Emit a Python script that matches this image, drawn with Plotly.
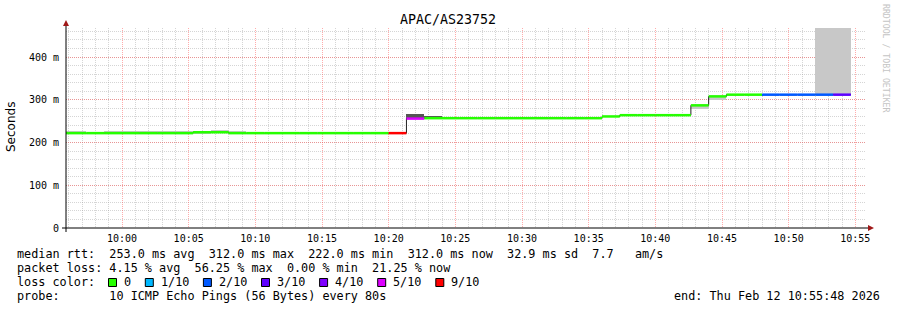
import pandas as pd
import plotly.graph_objects as go

# ---------------- data ----------------
DAY = "2026-02-12"
sample_start = [
    "09:54:40", "09:56:00", "09:57:20", "09:58:40", "10:00:00", "10:01:20",
    "10:02:40", "10:04:00", "10:05:20", "10:06:40", "10:08:00", "10:09:20",
    "10:10:40", "10:12:00", "10:13:20", "10:14:40", "10:16:00", "10:17:20",
    "10:18:40", "10:20:00", "10:21:20", "10:22:40", "10:24:00", "10:25:20",
    "10:26:40", "10:28:00", "10:29:20", "10:30:40", "10:32:00", "10:33:20",
    "10:34:40", "10:36:00", "10:37:20", "10:38:40", "10:40:00", "10:41:20",
    "10:42:40", "10:44:00", "10:45:20", "10:46:40", "10:48:00", "10:49:20",
    "10:50:40", "10:52:00", "10:53:20",
]
# median rtt in ms
median_ms = [
    222, 222, 222, 222, 222, 222, 222, 222, 224, 224, 222, 222,
    222, 222, 222, 222, 222, 222, 222, 222, 256, 257, 257, 257,
    257, 257, 257, 257, 257, 257, 257, 261, 264, 264, 264, 264,
    287, 308, 312, 312, 312, 312, 312, 312, 312,
]
# lost pings out of 10
loss_tenths = [
    0, 0, 0, 0, 0, 0, 0, 0, 0, 0, 0, 0,
    0, 0, 0, 0, 0, 0, 0, 9, 5, 0, 0, 0,
    0, 0, 0, 0, 0, 0, 0, 0, 0, 0, 0, 0,
    0, 0, 0, 0, 2, 2, 2, 2, 3,
]
N = None
# outer (light) smoke band, ms
smoke_lo = [222, 222, N, 222, 222, 222, 222, 222, 221, 222, 222, N,
            N, N, N, N, N, N, N, N, N, N, N, N,
            N, N, N, N, N, N, N, N, N, N, N, N,
            279, 300, N, N, N, N, N, 312, 312]
smoke_hi = [227, 227, N, 226, 226, 226, 226, 226, 228, 230, 226, N,
            N, N, N, N, N, N, N, N, N, N, N, N,
            N, N, N, N, N, N, N, N, N, N, N, N,
            287, 308, N, N, N, N, N, 900, 900]
# inner (dense) smoke band, ms
core_lo = [N] * 20 + [256, 257] + [N] * 23
core_hi = [N] * 20 + [266, 262] + [N] * 23

loss_labels = ["0", "1/10", "2/10", "3/10", "4/10", "5/10", "9/10"]
loss_levels = [0, 1, 2, 3, 4, 5, 9]
loss_colors = ["#26ff00", "#00b8ff", "#0059ff", "#5e00ff", "#7e00ff", "#dd00ff", "#ff0000"]

title_text = "APAC/AS23752"
y_title = "Seconds"
y_tickvals = [0, 100, 200, 300, 400]
y_ticktext = ["0", "100 m", "200 m", "300 m", "400 m"]
stat_lines = [
    "median rtt:  253.0 ms avg  312.0 ms max  222.0 ms min  312.0 ms now  32.9 ms sd  7.7   am/s",
    "packet loss: 4.15 % avg  56.25 % max  0.00 % min  21.25 % now",
]
probe_line = "probe:       10 ICMP Echo Pings (56 Bytes) every 80s"
end_line = "end: Thu Feb 12 10:55:48 2026"
range_start = "2026-02-12 09:55:48"
range_end = "2026-02-12 10:55:48"

# ---------------- figure ----------------
STEP = pd.Timedelta(seconds=80)
starts = [pd.Timestamp(f"{DAY} {s}") for s in sample_start]
ends = [s + STEP for s in starts]

W, H = 897, 310
L, R, T, B = 66, 31, 28, 82
PW, PH = W - L - R, H - T - B


def px(x):
    return (x - L) / PW


def py(y):
    return (H - B - y) / PH


MONO = "DejaVu Sans Mono"
fig = go.Figure()


def band(lo, hi, color):
    xs, bases, hs = [], [], []
    for s, a, b in zip(starts, lo, hi):
        if a is None:
            continue
        xs.append(s)
        bases.append(a)
        hs.append(b - a)
    fig.add_trace(go.Bar(x=xs, y=hs, base=bases, width=80000, offset=0,
                         marker=dict(color=color, line=dict(width=0)),
                         hoverinfo="skip", showlegend=False))


band(smoke_lo, smoke_hi, "#c8c8c8")
band(core_lo, core_hi, "#555555")

# dark connector step line
fig.add_trace(go.Scatter(x=starts + [ends[-1]], y=median_ms + [median_ms[-1]],
                         mode="lines", line=dict(color="#202020", width=1, shape="hv"),
                         hoverinfo="skip", showlegend=False))

# coloured median segments per loss level
for lvl, col in zip(loss_levels, loss_colors):
    xs, ys = [], []
    for s, e, m, l in zip(starts, ends, median_ms, loss_tenths):
        if l == lvl:
            xs += [s, e, None]
            ys += [m, m, None]
    if xs:
        fig.add_trace(go.Scatter(x=xs, y=ys, mode="lines",
                                 line=dict(color=col, width=2.5),
                                 hoverinfo="skip", showlegend=False))

MAJ = "rgba(255,70,70,0.45)"
MIN = "rgba(150,150,150,0.40)"
fig.update_layout(
    width=W, height=H,
    margin=dict(l=L, r=R, t=T, b=B, pad=0, autoexpand=False),
    paper_bgcolor="white", plot_bgcolor="white",
    barmode="overlay", bargap=0,
    showlegend=False,
    font=dict(family=MONO, size=10, color="#000"),
    xaxis=dict(
        type="date", range=[range_start, range_end], automargin=False,
        tick0="2026-02-12 10:00:00", dtick=300000, tickformat="%H:%M",
        showgrid=True, gridcolor=MAJ, griddash="1px,1px", gridwidth=1,
        minor=dict(dtick=60000, tick0="2026-02-12 10:00:00", showgrid=True,
                   gridcolor=MIN, griddash="1px,1px", gridwidth=1),
        showline=False, zeroline=False, ticks="",
        tickfont=dict(family=MONO, size=10, color="#000"),
        ticklabelstandoff=3,
    ),
    yaxis=dict(
        range=[0, 468], tickvals=y_tickvals, ticktext=y_ticktext, automargin=False,
        showgrid=True, gridcolor=MAJ, griddash="1px,1px", gridwidth=1,
        minor=dict(dtick=20, tick0=0, showgrid=True,
                   gridcolor=MIN, griddash="1px,1px", gridwidth=1),
        showline=False, zeroline=False, ticks="",
        tickfont=dict(family=MONO, size=10, color="#000"),
        ticklabelstandoff=6,
    ),
)

shapes = []
AX = "#000000"
ARROW = "#a01818"
shapes.append(dict(type="line", xref="paper", yref="paper",
                   x0=px(62), x1=px(868), y0=0, y1=0, line=dict(color=AX, width=1)))
shapes.append(dict(type="line", xref="paper", yref="paper",
                   x0=0, x1=0, y0=py(232), y1=py(25), line=dict(color=AX, width=1)))
shapes.append(dict(type="path", xref="paper", yref="paper",
                   path=f"M {px(63)} {py(26)} L {px(69)} {py(26)} L {px(66)} {py(20)} Z",
                   fillcolor=ARROW, line=dict(width=0)))
shapes.append(dict(type="path", xref="paper", yref="paper",
                   path=f"M {px(868)} {py(225)} L {px(868)} {py(231)} L {px(874)} {py(228)} Z",
                   fillcolor=ARROW, line=dict(width=0)))

annotations = []


def txt(x, y, s, size=11.8, anchor="left", color="#000", family=MONO, angle=0):
    annotations.append(dict(xref="paper", yref="paper", x=px(x), y=py(y),
                            text=s.replace(" ", "\u00a0"), showarrow=False,
                            xanchor=anchor, yanchor="middle", textangle=angle,
                            borderpad=0, font=dict(family=family, size=size, color=color)))


txt(448, 19, title_text, size=13.3, anchor="center")
txt(11, 127, y_title, size=12, anchor="center", family="DejaVu Sans", angle=-90)
txt(16, 254, stat_lines[0])
txt(16, 268, stat_lines[1])
txt(16, 282, "loss color:")
txt(16, 296, probe_line)
txt(881, 296, end_line, anchor="right")
txt(886, 59, "RRDTOOL / TOBI OETIKER", size=8.2, anchor="center", color="#c4c4c4", angle=90)

CH = 7.1
bx = 108.5
for lab, col in zip(loss_labels, loss_colors):
    shapes.append(dict(type="rect", xref="paper", yref="paper",
                       x0=px(bx), x1=px(bx + 8), y0=py(286.5), y1=py(278.5),
                       fillcolor=col, line=dict(color="#000", width=1)))
    tx = bx + 14.5
    txt(tx, 282, lab)
    bx = tx + len(lab) * CH + 15.2

fig.update_layout(shapes=shapes, annotations=annotations)
fig.write_html("out.html")
